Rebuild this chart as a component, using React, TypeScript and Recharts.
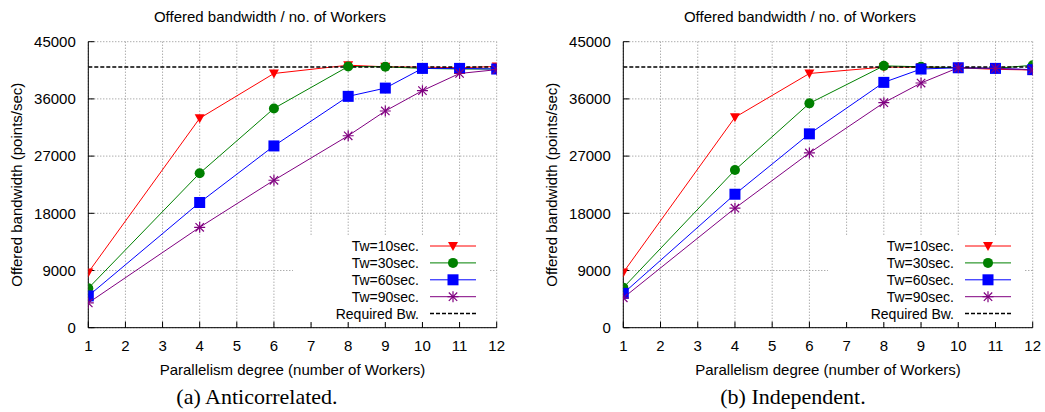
import React from 'react';
import { LineChart, Line, XAxis, YAxis, CartesianGrid, Legend, Label } from 'recharts';

// x positions that were measured
const workers = [1, 4, 6, 8, 9, 10, 11, 12];
const xTicks = [1, 2, 3, 4, 5, 6, 7, 8, 9, 10, 11, 12];
const yTicks = [0, 9000, 18000, 27000, 36000, 45000];
const requiredBw = 41000;

// (a) Anticorrelated
const antiTw10 = [8700, 32950, 40000, 41300, 41050, 41000, 40900, 41100];
const antiTw30 = [6200, 24300, 34500, 41100, 41050, 40800, 40700, 40700];
const antiTw60 = [5000, 19700, 28600, 36400, 37700, 40800, 40800, 40700];
const antiTw90 = [3900, 15800, 23200, 30200, 34100, 37300, 40000, 40600];

// (b) Independent
const indTw10 = [8700, 33100, 40000, 41000, 41000, 40900, 40650, 40550];
const indTw30 = [6300, 24800, 35300, 41200, 41050, 40900, 40800, 41300];
const indTw60 = [5400, 21000, 30500, 38600, 40700, 40900, 40800, 40600];
const indTw90 = [4700, 18800, 27500, 35400, 38500, 40900, 40800, 40550];

const SANS = '"Liberation Sans", Arial, Helvetica, sans-serif';
const SERIF = '"Liberation Serif", "Times New Roman", serif';

type MarkerKind = 'triangle' | 'circle' | 'square' | 'star';

const series: { key: string; name: string; color: string; marker: MarkerKind }[] = [
  { key: 'tw10', name: 'Tw=10sec.', color: '#ff0000', marker: 'triangle' },
  { key: 'tw30', name: 'Tw=30sec.', color: '#008000', marker: 'circle' },
  { key: 'tw60', name: 'Tw=60sec.', color: '#0000ff', marker: 'square' },
  { key: 'tw90', name: 'Tw=90sec.', color: '#800080', marker: 'star' },
];

const buildRows = (tw10: number[], tw30: number[], tw60: number[], tw90: number[]) =>
  workers.map((w, i) => ({
    workers: w,
    tw10: tw10[i],
    tw30: tw30[i],
    tw60: tw60[i],
    tw90: tw90[i],
    req: requiredBw,
  }));

const Marker = ({ kind, cx, cy, color }: { kind: MarkerKind; cx: number; cy: number; color: string }) => {
  if (cx == null || cy == null) return <g />;
  switch (kind) {
    case 'triangle':
      return <polygon points={`${cx - 5},${cy - 4} ${cx + 5},${cy - 4} ${cx},${cy + 5}`} fill={color} />;
    case 'circle':
      return <circle cx={cx} cy={cy} r={5} fill={color} />;
    case 'square':
      return <rect x={cx - 5.5} y={cy - 5.5} width={11} height={11} fill={color} />;
    default:
      return (
        <g stroke={color} strokeWidth={1.2}>
          <line x1={cx - 5.5} x2={cx + 5.5} y1={cy} y2={cy} />
          <line x1={cx} x2={cx} y1={cy - 5.5} y2={cy + 5.5} />
          <line x1={cx - 4.2} x2={cx + 4.2} y1={cy - 4.2} y2={cy + 4.2} />
          <line x1={cx - 4.2} x2={cx + 4.2} y1={cy + 4.2} y2={cy - 4.2} />
        </g>
      );
  }
};

// gnuplot style key with an opaque box
const KeyBox = () => {
  const rowY = (i: number) => 10 + i * 16.9;
  return (
    <svg width={197} height={86} style={{ display: 'block' }}>
      <rect width={197} height={86} fill="#fff" />
      {series.map((s, i) => (
        <g key={s.key}>
          <text x={126} y={rowY(i)} textAnchor="end" dy="0.35em" fontSize={14} fill="#000" fontFamily={SANS}>
            {s.name}
          </text>
          <line x1={137} x2={183} y1={rowY(i)} y2={rowY(i)} stroke={s.color} strokeWidth={1} />
          <Marker kind={s.marker} cx={160} cy={rowY(i)} color={s.color} />
        </g>
      ))}
      <text x={126} y={rowY(4)} textAnchor="end" dy="0.35em" fontSize={14} fill="#000" fontFamily={SANS}>
        Required Bw.
      </text>
      <line x1={137} x2={183} y1={rowY(4)} y2={rowY(4)} stroke="#000" strokeWidth={1.5} strokeDasharray="4 2" />
    </svg>
  );
};

const Panel = ({ rows, width, marginRight }: { rows: any[]; width: number; marginRight: number }) => (
  <LineChart
    width={width}
    height={412}
    data={rows}
    margin={{ top: 41.7, right: marginRight, bottom: 0, left: 0 }}
    style={{ fontFamily: SANS }}
  >
    <CartesianGrid stroke="#8a8a8a" strokeDasharray="1 2" />
    <XAxis
      dataKey="workers"
      type="number"
      domain={[1, 12]}
      ticks={xTicks}
      interval={0}
      allowDataOverflow
      height={84.3}
      tickSize={-6}
      tickMargin={18.3}
      stroke="#000"
      tick={{ fill: '#000', fontSize: 15 }}
    >
      <Label value="Parallelism degree (number of Workers)" position="center" fill="#000" fontSize={15} />
    </XAxis>
    <XAxis
      xAxisId="top"
      orientation="top"
      type="number"
      domain={[1, 12]}
      ticks={xTicks}
      interval={0}
      allowDataOverflow
      height={0}
      tickSize={-6}
      tickFormatter={() => ''}
      stroke="#000"
    />
    <YAxis
      domain={[0, 45000]}
      ticks={yTicks}
      interval={0}
      allowDataOverflow
      width={88.3}
      tickSize={-6}
      tickMargin={18.5}
      stroke="#000"
      tick={{ fill: '#000', fontSize: 15 }}
    >
      <Label
        value="Offered bandwidth (points/sec)"
        angle={-90}
        position="insideLeft"
        offset={17}
        fill="#000"
        fontSize={15}
        style={{ textAnchor: 'middle' }}
      />
    </YAxis>
    <YAxis
      yAxisId="r"
      orientation="right"
      domain={[0, 45000]}
      ticks={yTicks}
      interval={0}
      allowDataOverflow
      width={0}
      tickSize={-6}
      tickFormatter={() => ''}
      stroke="#000"
    />
    <Legend
      layout="vertical"
      align="center"
      verticalAlign="middle"
      content={() => <KeyBox />}
      wrapperStyle={{ left: 293, top: 236, width: 197, height: 86 }}
    />
    {series.map((s) => (
      <Line
        key={s.key}
        type="linear"
        dataKey={s.key}
        name={s.name}
        stroke={s.color}
        strokeWidth={1}
        isAnimationActive={false}
        dot={(p: any) => <Marker key={`${s.key}-${p.index}`} kind={s.marker} cx={p.cx} cy={p.cy} color={s.color} />}
        activeDot={false}
      />
    ))}
    <Line
      type="linear"
      dataKey="req"
      name="Required Bw."
      stroke="#000"
      strokeWidth={1.5}
      strokeDasharray="4 2"
      dot={false}
      activeDot={false}
      isAnimationActive={false}
    />
  </LineChart>
);

const titleStyle = (center: number): React.CSSProperties => ({
  position: 'absolute',
  left: center - 200,
  width: 400,
  top: 7,
  lineHeight: '20px',
  textAlign: 'center',
  fontSize: 15,
  fontFamily: SANS,
});

const captionStyle = (center: number): React.CSSProperties => ({
  position: 'absolute',
  left: center - 200,
  width: 400,
  top: 384,
  lineHeight: '26px',
  textAlign: 'center',
  fontSize: 22,
  fontFamily: SERIF,
});

export default function App() {
  const antiRows = buildRows(antiTw10, antiTw30, antiTw60, antiTw90);
  const indRows = buildRows(indTw10, indTw30, indTw60, indTw90);
  return (
    <div style={{ position: 'absolute', left: 0, top: 0, width: 1045, height: 412, background: '#fff', overflow: 'hidden' }}>
      <div style={{ position: 'absolute', left: 0, top: 0 }}>
        <Panel rows={antiRows} width={520} marginRight={23.3} />
      </div>
      <div style={{ position: 'absolute', left: 535, top: 0 }}>
        <Panel rows={indRows} width={510} marginRight={12.3} />
      </div>
      <div style={titleStyle(270)}>Offered bandwidth / no. of Workers</div>
      <div style={titleStyle(800)}>Offered bandwidth / no. of Workers</div>
      <div style={captionStyle(257)}>(a) Anticorrelated.</div>
      <div style={captionStyle(793)}>(b) Independent.</div>
    </div>
  );
}
